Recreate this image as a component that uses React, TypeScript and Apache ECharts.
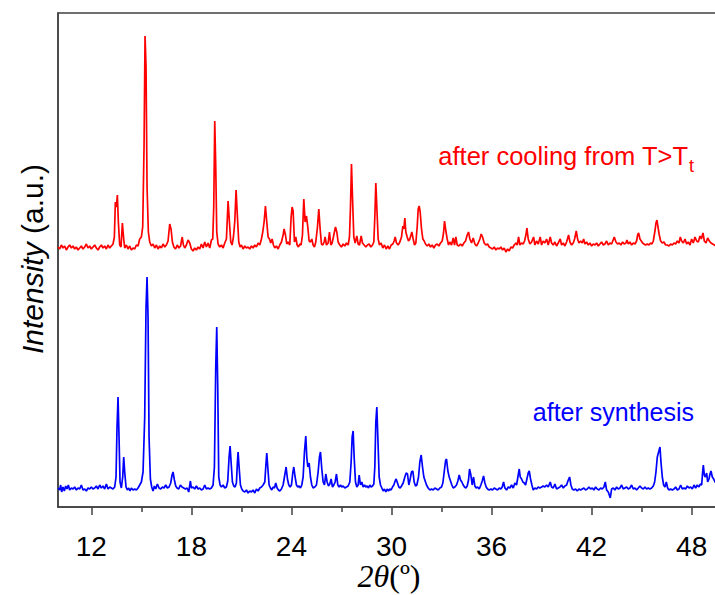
import React, { useEffect, useRef } from "react";
import * as echarts from "echarts";

// 2θ (deg), intensity (a.u., offset pattern)
const afterCooling: number[][] = [
  [10.0,260],[10.1,258],[10.2,262],[10.3,259],[10.4,261],[10.5,257],[10.6,260],[10.7,262],[10.8,259],[10.9,261],
  [11.0,258],[11.1,260],[11.2,257],[11.3,259],[11.4,261],[11.5,258],[11.6,260],[11.7,263],[11.8,259],[11.9,261],
  [12.0,258],[12.1,260],[12.2,262],[12.3,259],[12.4,257],[12.5,260],[12.6,262],[12.7,259],[12.8,261],[12.9,258],
  [13.0,262],[13.1,259],[13.2,261],[13.3,263],[13.38,270],[13.44,305],[13.5,300],[13.56,312],[13.62,285],[13.7,262],
  [13.78,260],[13.86,284],[13.94,268],[14.0,259],[14.1,262],[14.2,258],[14.3,261],[14.4,257],[14.5,259],[14.6,258],
  [14.7,262],[14.8,261],[14.9,268],[15.0,270],[15.08,280],[15.16,360],[15.22,471],[15.28,440],[15.34,320],[15.42,275],
  [15.5,265],[15.6,261],[15.7,263],[15.8,259],[15.9,262],[16.0,258],[16.1,261],[16.2,259],[16.3,263],[16.4,260],
  [16.5,262],[16.6,266],[16.7,283],[16.78,278],[16.86,265],[16.95,260],[17.05,258],[17.15,262],[17.25,259],[17.35,261],
  [17.45,270],[17.52,262],[17.6,259],[17.7,262],[17.8,267],[17.9,264],[18.0,258],[18.1,256],[18.2,259],[18.3,257],
  [18.4,260],[18.5,258],[18.6,263],[18.7,259],[18.8,265],[18.9,260],[19.0,264],[19.1,259],[19.2,267],[19.28,268],
  [19.34,300],[19.4,386],[19.46,340],[19.52,275],[19.6,263],[19.7,260],[19.8,262],[19.9,259],[20.0,264],[20.1,268],
  [20.2,306],[20.28,285],[20.36,265],[20.44,262],[20.52,270],[20.6,285],[20.68,317],[20.76,290],[20.84,265],[20.92,260],
  [21.0,262],[21.1,258],[21.2,261],[21.3,259],[21.4,260],[21.5,258],[21.6,261],[21.7,259],[21.8,262],[21.9,260],
  [22.0,264],[22.1,262],[22.2,268],[22.28,275],[22.36,285],[22.44,301],[22.52,285],[22.6,270],[22.68,268],[22.76,264],
  [22.84,268],[22.92,262],[23.0,259],[23.1,261],[23.2,258],[23.3,262],[23.4,265],[23.5,272],[23.56,278],[23.64,272],
  [23.72,263],[23.8,265],[23.9,262],[23.98,290],[24.04,300],[24.1,296],[24.18,265],[24.26,270],[24.34,262],[24.42,260],
  [24.5,263],[24.58,262],[24.66,272],[24.74,308],[24.82,285],[24.9,291],[24.98,280],[25.06,266],[25.14,265],[25.22,268],
  [25.3,262],[25.38,260],[25.46,265],[25.56,280],[25.64,298],[25.72,278],[25.8,263],[25.88,262],[25.96,265],[26.02,270],
  [26.1,262],[26.2,264],[26.28,275],[26.36,262],[26.44,264],[26.54,272],[26.64,280],[26.72,275],[26.8,265],[26.9,262],
  [27.0,260],[27.1,263],[27.2,261],[27.3,264],[27.4,262],[27.48,270],[27.54,300],[27.6,343],[27.66,310],[27.74,270],
  [27.82,264],[27.92,271],[28.0,263],[28.08,262],[28.18,271],[28.26,264],[28.36,262],[28.46,260],[28.56,262],[28.66,263],
  [28.76,260],[28.86,262],[28.94,265],[29.0,290],[29.06,324],[29.12,300],[29.2,268],[29.28,262],[29.38,264],[29.48,259],
  [29.58,262],[29.68,258],[29.78,261],[29.88,258],[29.98,262],[30.08,263],[30.16,266],[30.22,270],[30.3,264],[30.4,262],
  [30.5,265],[30.6,270],[30.68,281],[30.74,278],[30.8,289],[30.86,275],[30.94,270],[31.02,266],[31.1,268],[31.22,275],
  [31.3,268],[31.38,262],[31.46,264],[31.54,280],[31.6,298],[31.66,301],[31.72,295],[31.8,278],[31.88,268],[31.96,266],
  [32.04,263],[32.14,261],[32.24,263],[32.34,260],[32.44,262],[32.54,259],[32.64,262],[32.74,263],[32.84,261],[32.94,264],
  [33.04,266],[33.12,274],[33.18,286],[33.26,276],[33.34,268],[33.42,262],[33.5,265],[33.6,262],[33.7,269],[33.78,262],
  [33.86,270],[33.94,262],[34.04,261],[34.14,263],[34.24,261],[34.34,264],[34.44,266],[34.54,272],[34.62,275],[34.7,268],
  [34.8,264],[34.9,269],[35.0,263],[35.1,261],[35.2,264],[35.3,268],[35.38,273],[35.46,270],[35.56,264],[35.66,262],
  [35.76,263],[35.86,260],[35.96,259],[36.06,258],[36.16,260],[36.26,257],[36.36,259],[36.46,258],[36.56,260],[36.66,257],
  [36.76,259],[36.86,255],[36.96,258],[37.06,256],[37.16,260],[37.26,259],[37.36,262],[37.46,264],[37.54,262],[37.62,270],
  [37.7,262],[37.8,264],[37.9,263],[37.98,266],[38.06,272],[38.12,279],[38.2,268],[38.3,263],[38.4,265],[38.52,270],
  [38.6,262],[38.7,266],[38.8,263],[38.92,270],[39.0,262],[39.1,266],[39.2,264],[39.3,268],[39.4,262],[39.52,270],
  [39.6,264],[39.7,262],[39.8,265],[39.9,261],[40.0,264],[40.12,268],[40.2,262],[40.3,264],[40.4,261],[40.5,265],
  [40.62,272],[40.7,265],[40.8,262],[40.9,264],[40.98,268],[41.08,276],[41.16,268],[41.24,264],[41.34,266],[41.44,264],
  [41.52,268],[41.6,263],[41.7,265],[41.8,262],[41.9,264],[42.0,261],[42.1,263],[42.2,262],[42.3,264],[42.4,261],
  [42.5,263],[42.6,265],[42.7,262],[42.8,263],[42.9,266],[43.0,262],[43.1,264],[43.2,263],[43.36,270],[43.46,265],
  [43.56,263],[43.66,264],[43.76,262],[43.86,265],[43.96,263],[44.06,264],[44.12,267],[44.2,263],[44.3,265],[44.4,262],
  [44.5,264],[44.6,263],[44.7,266],[44.76,272],[44.82,274],[44.9,268],[44.98,266],[45.06,264],[45.14,263],[45.24,262],
  [45.34,263],[45.44,262],[45.54,264],[45.62,263],[45.7,266],[45.8,276],[45.86,284],[45.92,287],[45.98,280],[46.06,272],
  [46.14,266],[46.24,264],[46.34,265],[46.44,262],[46.54,262],[46.64,261],[46.74,263],[46.84,262],[46.94,264],[47.04,263],
  [47.14,266],[47.24,264],[47.32,270],[47.4,266],[47.5,264],[47.6,268],[47.7,263],[47.8,265],[47.9,262],[48.0,268],
  [48.1,264],[48.2,270],[48.3,266],[48.4,265],[48.5,271],[48.58,268],[48.68,274],[48.76,266],[48.86,264],[48.96,269],
  [49.06,266],[49.16,264],[49.26,263],[49.36,262],[49.46,261],[49.6,263],[49.8,262],[50.0,261]
];

const afterSynthesis: number[][] = [
  [10.0,19],[10.1,17],[10.16,22],[10.22,15],[10.3,20],[10.38,16],[10.46,21],[10.54,18],[10.62,22],[10.7,17],
  [10.8,19],[10.9,18],[11.0,20],[11.1,17],[11.2,19],[11.3,18],[11.4,22],[11.5,17],[11.6,18],[11.7,16],
  [11.8,19],[11.9,18],[12.0,20],[12.1,18],[12.2,19],[12.3,21],[12.4,18],[12.5,22],[12.6,19],[12.7,21],
  [12.8,18],[12.9,23],[13.0,18],[13.1,20],[13.2,19],[13.3,18],[13.4,20],[13.48,30],[13.54,80],[13.6,110],
  [13.66,70],[13.72,25],[13.8,19],[13.88,30],[13.94,50],[14.0,35],[14.08,20],[14.16,17],[14.24,19],[14.32,16],
  [14.4,19],[14.5,17],[14.6,18],[14.7,17],[14.8,19],[14.9,22],[15.0,25],[15.1,35],[15.2,90],[15.28,200],
  [15.34,230],[15.4,190],[15.46,70],[15.54,28],[15.62,20],[15.7,16],[15.78,21],[15.86,18],[15.96,23],[16.06,19],
  [16.16,18],[16.26,20],[16.36,19],[16.46,22],[16.56,19],[16.66,20],[16.76,24],[16.84,32],[16.9,35],[16.98,27],
  [17.06,21],[17.14,19],[17.24,18],[17.34,22],[17.44,20],[17.54,19],[17.64,18],[17.74,19],[17.84,15],[17.94,26],
  [18.0,19],[18.1,20],[18.2,18],[18.3,21],[18.4,18],[18.5,19],[18.6,17],[18.7,18],[18.8,22],[18.9,18],
  [19.0,19],[19.1,18],[19.2,19],[19.3,22],[19.38,40],[19.46,140],[19.52,180],[19.58,120],[19.64,30],[19.72,22],
  [19.8,20],[19.9,22],[20.0,19],[20.1,20],[20.18,26],[20.26,50],[20.32,61],[20.38,45],[20.46,25],[20.54,21],
  [20.62,20],[20.7,24],[20.76,45],[20.8,55],[20.86,40],[20.94,22],[21.02,18],[21.1,16],[21.2,15],[21.3,17],
  [21.4,14],[21.5,16],[21.6,15],[21.7,17],[21.8,14],[21.9,18],[22.0,16],[22.1,19],[22.2,20],[22.3,22],
  [22.4,25],[22.46,40],[22.52,54],[22.58,40],[22.66,22],[22.74,19],[22.82,17],[22.9,20],[22.98,19],[23.06,24],
  [23.14,19],[23.22,17],[23.3,16],[23.4,18],[23.5,22],[23.6,32],[23.68,40],[23.76,28],[23.84,22],[23.92,20],
  [24.0,22],[24.08,34],[24.14,40],[24.22,30],[24.3,22],[24.38,20],[24.46,21],[24.54,19],[24.62,22],[24.7,30],
  [24.78,55],[24.86,71],[24.92,50],[24.98,40],[25.06,44],[25.14,30],[25.22,22],[25.3,19],[25.4,20],[25.5,22],
  [25.6,35],[25.68,50],[25.74,55],[25.82,38],[25.9,25],[25.98,22],[26.06,33],[26.14,25],[26.22,21],[26.3,23],
  [26.38,28],[26.46,20],[26.54,22],[26.62,25],[26.7,33],[26.78,22],[26.86,20],[26.94,22],[27.02,20],[27.1,21],
  [27.2,19],[27.3,20],[27.4,21],[27.5,25],[27.58,45],[27.64,70],[27.7,76],[27.76,50],[27.84,25],[27.92,20],
  [28.0,22],[28.06,32],[28.14,22],[28.22,25],[28.3,20],[28.38,22],[28.46,20],[28.54,21],[28.62,19],[28.7,22],
  [28.78,20],[28.86,21],[28.94,23],[29.0,40],[29.06,85],[29.12,100],[29.18,70],[29.26,30],[29.34,22],[29.42,19],
  [29.5,16],[29.58,18],[29.66,15],[29.74,18],[29.82,16],[29.9,18],[29.98,17],[30.06,20],[30.14,22],[30.22,26],
  [30.28,28],[30.36,24],[30.44,20],[30.52,19],[30.6,21],[30.7,24],[30.8,30],[30.88,34],[30.96,33],[31.04,22],
  [31.12,28],[31.2,35],[31.28,36],[31.36,25],[31.44,21],[31.52,22],[31.62,30],[31.7,45],[31.78,52],[31.86,40],
  [31.94,30],[32.02,26],[32.1,22],[32.2,19],[32.3,17],[32.4,18],[32.5,17],[32.6,19],[32.7,18],[32.8,17],
  [32.9,19],[33.0,20],[33.08,24],[33.16,35],[33.24,46],[33.3,48],[33.38,36],[33.46,30],[33.54,26],[33.62,22],
  [33.7,19],[33.8,20],[33.9,22],[33.98,26],[34.06,32],[34.14,27],[34.22,25],[34.3,22],[34.38,20],[34.46,19],
  [34.54,21],[34.62,27],[34.68,38],[34.76,32],[34.84,22],[34.92,30],[35.0,21],[35.08,19],[35.16,20],[35.26,18],
  [35.36,22],[35.44,26],[35.52,31],[35.6,24],[35.68,20],[35.76,18],[35.86,17],[35.96,18],[36.06,17],[36.16,19],
  [36.26,18],[36.36,17],[36.46,19],[36.56,18],[36.64,20],[36.72,25],[36.8,19],[36.9,17],[37.0,20],[37.1,19],
  [37.2,22],[37.3,19],[37.4,24],[37.5,22],[37.58,30],[37.66,38],[37.72,30],[37.8,28],[37.88,25],[37.96,24],
  [38.04,22],[38.12,28],[38.2,34],[38.26,36],[38.34,28],[38.42,22],[38.5,17],[38.6,19],[38.7,18],[38.8,20],
  [38.9,19],[39.0,20],[39.1,21],[39.2,20],[39.3,22],[39.4,20],[39.52,25],[39.6,20],[39.7,19],[39.8,23],
  [39.9,18],[40.0,19],[40.1,20],[40.2,22],[40.3,19],[40.4,21],[40.5,22],[40.58,26],[40.68,30],[40.76,22],
  [40.84,18],[40.94,17],[41.04,18],[41.14,16],[41.24,18],[41.34,17],[41.44,18],[41.54,19],[41.64,17],[41.74,18],
  [41.84,20],[41.94,18],[42.04,19],[42.14,17],[42.24,20],[42.34,18],[42.44,17],[42.54,19],[42.64,18],[42.74,20],
  [42.82,25],[42.9,17],[43.0,15],[43.06,12],[43.12,9],[43.2,18],[43.3,19],[43.4,17],[43.5,20],[43.6,18],
  [43.7,19],[43.8,22],[43.9,18],[44.0,19],[44.1,20],[44.2,18],[44.3,19],[44.4,22],[44.5,18],[44.6,19],
  [44.7,17],[44.8,19],[44.9,21],[45.0,19],[45.1,18],[45.2,20],[45.3,18],[45.4,19],[45.5,18],[45.6,19],
  [45.7,21],[45.78,25],[45.86,35],[45.94,50],[46.02,55],[46.1,60],[46.16,45],[46.24,30],[46.32,22],[46.4,20],
  [46.48,25],[46.56,19],[46.64,17],[46.74,18],[46.84,17],[46.94,18],[47.04,20],[47.14,17],[47.24,18],[47.34,22],
  [47.44,18],[47.54,19],[47.64,18],[47.74,21],[47.84,19],[47.94,20],[48.04,18],[48.14,22],[48.24,19],[48.34,22],
  [48.44,20],[48.52,23],[48.6,22],[48.66,35],[48.7,42],[48.76,32],[48.82,30],[48.9,34],[48.96,25],[49.04,28],
  [49.1,33],[49.16,36],[49.24,30],[49.32,28],[49.4,25],[49.5,24],[49.6,22]
];

const majorTicks = [12, 18, 24, 30, 36, 42, 48];
const minorTicks = [15, 21, 27, 33, 39, 45];

export default function App() {
  const ref = useRef<HTMLDivElement>(null);
  useEffect(() => {
    if (!ref.current) return;
    const chart = echarts.init(ref.current, null, { renderer: "svg" });
    const axisColor = "#404040";
    const sans = "'Liberation Sans', Arial, sans-serif";
    const serif = "'Liberation Serif', 'Times New Roman', serif";
    chart.setOption({
      animation: false,
      backgroundColor: "#ffffff",
      grid: {
        left: 58,
        top: 13,
        width: 667,
        height: 494,
        show: true,
        borderColor: axisColor,
        borderWidth: 1.5,
        backgroundColor: "transparent",
        outerBoundsMode: "none",
        containLabel: false,
      },
      xAxis: [
        {
          type: "value",
          min: 10,
          max: 50,
          axisLine: { show: true, lineStyle: { color: axisColor, width: 1.5 } },
          axisTick: {
            show: true,
            customValues: majorTicks,
            length: 8,
            lineStyle: { color: axisColor, width: 1.5 },
          },
          axisLabel: {
            customValues: majorTicks,
            fontSize: 28,
            fontFamily: sans,
            color: "#000",
            margin: 25,
          },
          splitLine: { show: false },
        },
        {
          type: "value",
          min: 10,
          max: 50,
          position: "bottom",
          axisLine: { show: false },
          axisTick: {
            show: true,
            customValues: minorTicks,
            length: 5,
            lineStyle: { color: axisColor, width: 1.5 },
          },
          axisLabel: { show: false },
          splitLine: { show: false },
        },
      ],
      yAxis: {
        type: "value",
        min: 0,
        max: 494,
        axisLine: { show: true, lineStyle: { color: axisColor, width: 1.5 } },
        axisTick: { show: false },
        axisLabel: { show: false },
        splitLine: { show: false },
      },
      series: [
        {
          name: "after cooling from T>Tt",
          type: "line",
          data: afterCooling,
          showSymbol: false,
          lineStyle: { color: "#ff0000", width: 1.7 },
          itemStyle: { color: "#ff0000" },
        },
        {
          name: "after synthesis",
          type: "line",
          data: afterSynthesis,
          showSymbol: false,
          lineStyle: { color: "#0000ff", width: 1.7 },
          itemStyle: { color: "#0000ff" },
        },
      ],
      graphic: [
        {
          type: "text",
          x: 688,
          y: 169,
          style: {
            text: "after cooling from T>T",
            fill: "#ff0000",
            fontSize: 25.5,
            fontFamily: sans,
            textAlign: "right",
            textVerticalAlign: "bottom",
          },
        },
        {
          type: "text",
          x: 689,
          y: 175,
          style: {
            text: "t",
            fill: "#ff0000",
            fontSize: 18,
            fontFamily: sans,
            textAlign: "left",
            textVerticalAlign: "bottom",
          },
        },
        {
          type: "text",
          x: 694,
          y: 424,
          style: {
            text: "after synthesis",
            fill: "#0000ff",
            fontSize: 25,
            fontFamily: sans,
            textAlign: "right",
            textVerticalAlign: "bottom",
          },
        },
        {
          type: "text",
          x: 32,
          y: 259,
          rotation: Math.PI / 2,
          style: {
            text: "{i|Intensity}{n|\u00a0(a.u.)}",
            textAlign: "center",
            textVerticalAlign: "middle",
            fill: "#000",
            rich: {
              i: { fontSize: 30, fontStyle: "italic", fontFamily: sans, fill: "#000" },
              n: { fontSize: 30, fontFamily: sans, fill: "#000" },
            },
          },
        },
        {
          type: "text",
          x: 389,
          y: 576,
          style: {
            text: "{i|2θ}{n|(º)}",
            textAlign: "center",
            textVerticalAlign: "middle",
            fill: "#000",
            rich: {
              i: { fontSize: 32, fontStyle: "italic", fontFamily: serif, fill: "#000" },
              n: { fontSize: 32, fontFamily: serif, fill: "#000" },
            },
          },
        },
      ],
    });
    return () => chart.dispose();
  }, []);
  return (
    <div
      ref={ref}
      style={{ position: "absolute", left: 0, top: 0, width: 715, height: 595 }}
    />
  );
}
